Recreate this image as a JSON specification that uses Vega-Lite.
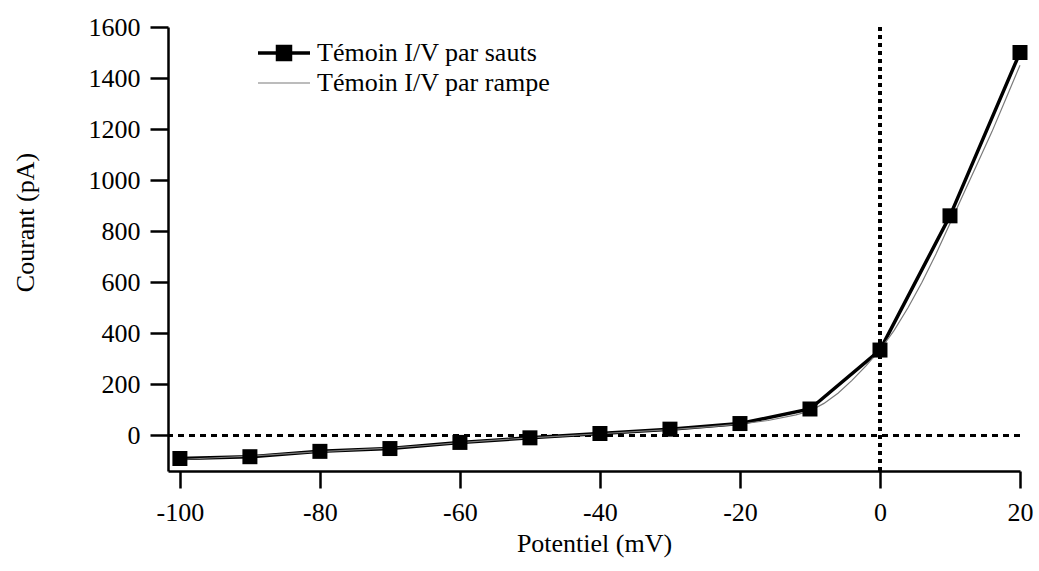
{
  "$schema": "https://vega.github.io/schema/vega-lite/v6.json",
  "width": 852,
  "height": 444,
  "autosize": {"type": "none"},
  "padding": {"left": 168, "top": 27, "right": 19, "bottom": 100},
  "background": "white",
  "config": {
    "view": {"stroke": null},
    "font": "Liberation Serif",
    "axis": {
      "domainColor": "black", "domainWidth": 2.5, "tickColor": "black", "tickWidth": 2.5,
      "grid": false, "labelFont": "Liberation Serif", "labelFontSize": 26, "labelColor": "black",
      "titleFont": "Liberation Serif", "titleFontSize": 26, "titleColor": "black", "titleFontWeight": "normal"
    },
    "legend": {
      "orient": "none", "legendX": 88, "legendY": 11, "padding": 0,
      "labelFont": "Liberation Serif", "labelFontSize": 26, "labelColor": "black", "labelLimit": 0,
      "symbolSize": 400, "rowPadding": 0, "clipHeight": 30, "labelOffset": 5, "symbolType": "stroke"
    }
  },
  "data": {
    "values": [
      {"serie": "Témoin I/V par sauts", "v": -100, "i": -91},
      {"serie": "Témoin I/V par sauts", "v": -90, "i": -84},
      {"serie": "Témoin I/V par sauts", "v": -80, "i": -63},
      {"serie": "Témoin I/V par sauts", "v": -70, "i": -52},
      {"serie": "Témoin I/V par sauts", "v": -60, "i": -28},
      {"serie": "Témoin I/V par sauts", "v": -50, "i": -10},
      {"serie": "Témoin I/V par sauts", "v": -40, "i": 7},
      {"serie": "Témoin I/V par sauts", "v": -30, "i": 24},
      {"serie": "Témoin I/V par sauts", "v": -20, "i": 46},
      {"serie": "Témoin I/V par sauts", "v": -10, "i": 103},
      {"serie": "Témoin I/V par sauts", "v": 0, "i": 334},
      {"serie": "Témoin I/V par sauts", "v": 10, "i": 860},
      {"serie": "Témoin I/V par sauts", "v": 20, "i": 1500},
      {"serie": "Témoin I/V par rampe", "v": -100, "i": -95},
      {"serie": "Témoin I/V par rampe", "v": -95, "i": -88},
      {"serie": "Témoin I/V par rampe", "v": -90, "i": -82},
      {"serie": "Témoin I/V par rampe", "v": -85, "i": -73},
      {"serie": "Témoin I/V par rampe", "v": -80, "i": -64},
      {"serie": "Témoin I/V par rampe", "v": -75, "i": -57},
      {"serie": "Témoin I/V par rampe", "v": -70, "i": -50},
      {"serie": "Témoin I/V par rampe", "v": -65, "i": -40},
      {"serie": "Témoin I/V par rampe", "v": -60, "i": -29},
      {"serie": "Témoin I/V par rampe", "v": -55, "i": -19},
      {"serie": "Témoin I/V par rampe", "v": -50, "i": -10},
      {"serie": "Témoin I/V par rampe", "v": -45, "i": -2},
      {"serie": "Témoin I/V par rampe", "v": -40, "i": 6},
      {"serie": "Témoin I/V par rampe", "v": -35, "i": 14},
      {"serie": "Témoin I/V par rampe", "v": -30, "i": 22},
      {"serie": "Témoin I/V par rampe", "v": -25, "i": 32},
      {"serie": "Témoin I/V par rampe", "v": -20, "i": 44},
      {"serie": "Témoin I/V par rampe", "v": -16, "i": 58},
      {"serie": "Témoin I/V par rampe", "v": -12, "i": 80},
      {"serie": "Témoin I/V par rampe", "v": -10, "i": 95},
      {"serie": "Témoin I/V par rampe", "v": -8, "i": 125},
      {"serie": "Témoin I/V par rampe", "v": -6, "i": 165},
      {"serie": "Témoin I/V par rampe", "v": -4, "i": 215},
      {"serie": "Témoin I/V par rampe", "v": -2, "i": 272},
      {"serie": "Témoin I/V par rampe", "v": 0, "i": 335},
      {"serie": "Témoin I/V par rampe", "v": 2, "i": 410},
      {"serie": "Témoin I/V par rampe", "v": 4, "i": 500},
      {"serie": "Témoin I/V par rampe", "v": 6, "i": 600},
      {"serie": "Témoin I/V par rampe", "v": 8, "i": 710},
      {"serie": "Témoin I/V par rampe", "v": 10, "i": 830},
      {"serie": "Témoin I/V par rampe", "v": 12, "i": 950},
      {"serie": "Témoin I/V par rampe", "v": 14, "i": 1070},
      {"serie": "Témoin I/V par rampe", "v": 16, "i": 1190},
      {"serie": "Témoin I/V par rampe", "v": 18, "i": 1320},
      {"serie": "Témoin I/V par rampe", "v": 20, "i": 1450}
    ]
  },
  "encoding": {
    "x": {
      "field": "v", "type": "quantitative",
      "scale": {"domain": [-101.7, 20], "nice": false, "zero": false},
      "axis": {"values": [-100, -80, -60, -40, -20, 0, 20], "labelExpr": "'' + datum.value", "title": "Potentiel (mV)", "tickSize": 17, "labelPadding": 11, "titleY": 80, "titleBaseline": "alphabetic", "labelFlush": false}
    },
    "y": {
      "field": "i", "type": "quantitative",
      "scale": {"domain": [-140, 1600], "nice": false, "zero": false},
      "axis": {"values": [0, 200, 400, 600, 800, 1000, 1200, 1400, 1600], "labelExpr": "'' + datum.value", "title": "Courant (pA)", "tickSize": 18, "labelPadding": 10, "titleX": -135, "titleY": 195, "titleBaseline": "alphabetic", "labelFlush": false}
    }
  },
  "layer": [
    {
      "mark": {"type": "rule", "color": "black", "strokeWidth": 2.5, "strokeDash": [6, 5]},
      "encoding": {"y": {"datum": 0}, "x": null}
    },
    {
      "mark": {"type": "rule", "color": "black", "strokeWidth": 3, "strokeDash": [4, 4]},
      "encoding": {"x": {"datum": 0}, "y": null}
    },
    {
      "mark": {"type": "line"},
      "encoding": {
        "color": {
          "field": "serie", "type": "nominal",
          "scale": {"domain": ["Témoin I/V par sauts", "Témoin I/V par rampe"], "range": ["#000000", "#7a7a7a"]},
          "sort": ["Témoin I/V par sauts", "Témoin I/V par rampe"],
          "legend": {
            "title": null,
            "encode": {
              "symbols": {
                "update": {
                  "size": {"value": 2704},
                  "shape": [
                    {"test": "datum.value === 'Témoin I/V par sauts'", "value": "M-1,0L1,0M-0.25,-0.25L0.25,-0.25L0.25,0.25L-0.25,0.25Z"},
                    {"value": "stroke"}
                  ],
                  "strokeWidth": [
                    {"test": "datum.value === 'Témoin I/V par sauts'", "value": 3.5},
                    {"value": 1.2}
                  ],
                  "fill": [
                    {"test": "datum.value === 'Témoin I/V par sauts'", "value": "#000000"},
                    {"value": "transparent"}
                  ]
                }
              }
            }
          }
        },
        "strokeWidth": {
          "field": "serie", "type": "nominal",
          "scale": {"domain": ["Témoin I/V par sauts", "Témoin I/V par rampe"], "range": [3.5, 1.2]},
          "legend": null
        },
        "order": {"field": "v", "type": "quantitative"}
      }
    },
    {
      "transform": [{"filter": "datum.serie === 'Témoin I/V par sauts'"}],
      "mark": {"type": "point", "shape": "square", "filled": true, "color": "#000000", "size": 225, "opacity": 1},
      "encoding": {}
    }
  ]
}
